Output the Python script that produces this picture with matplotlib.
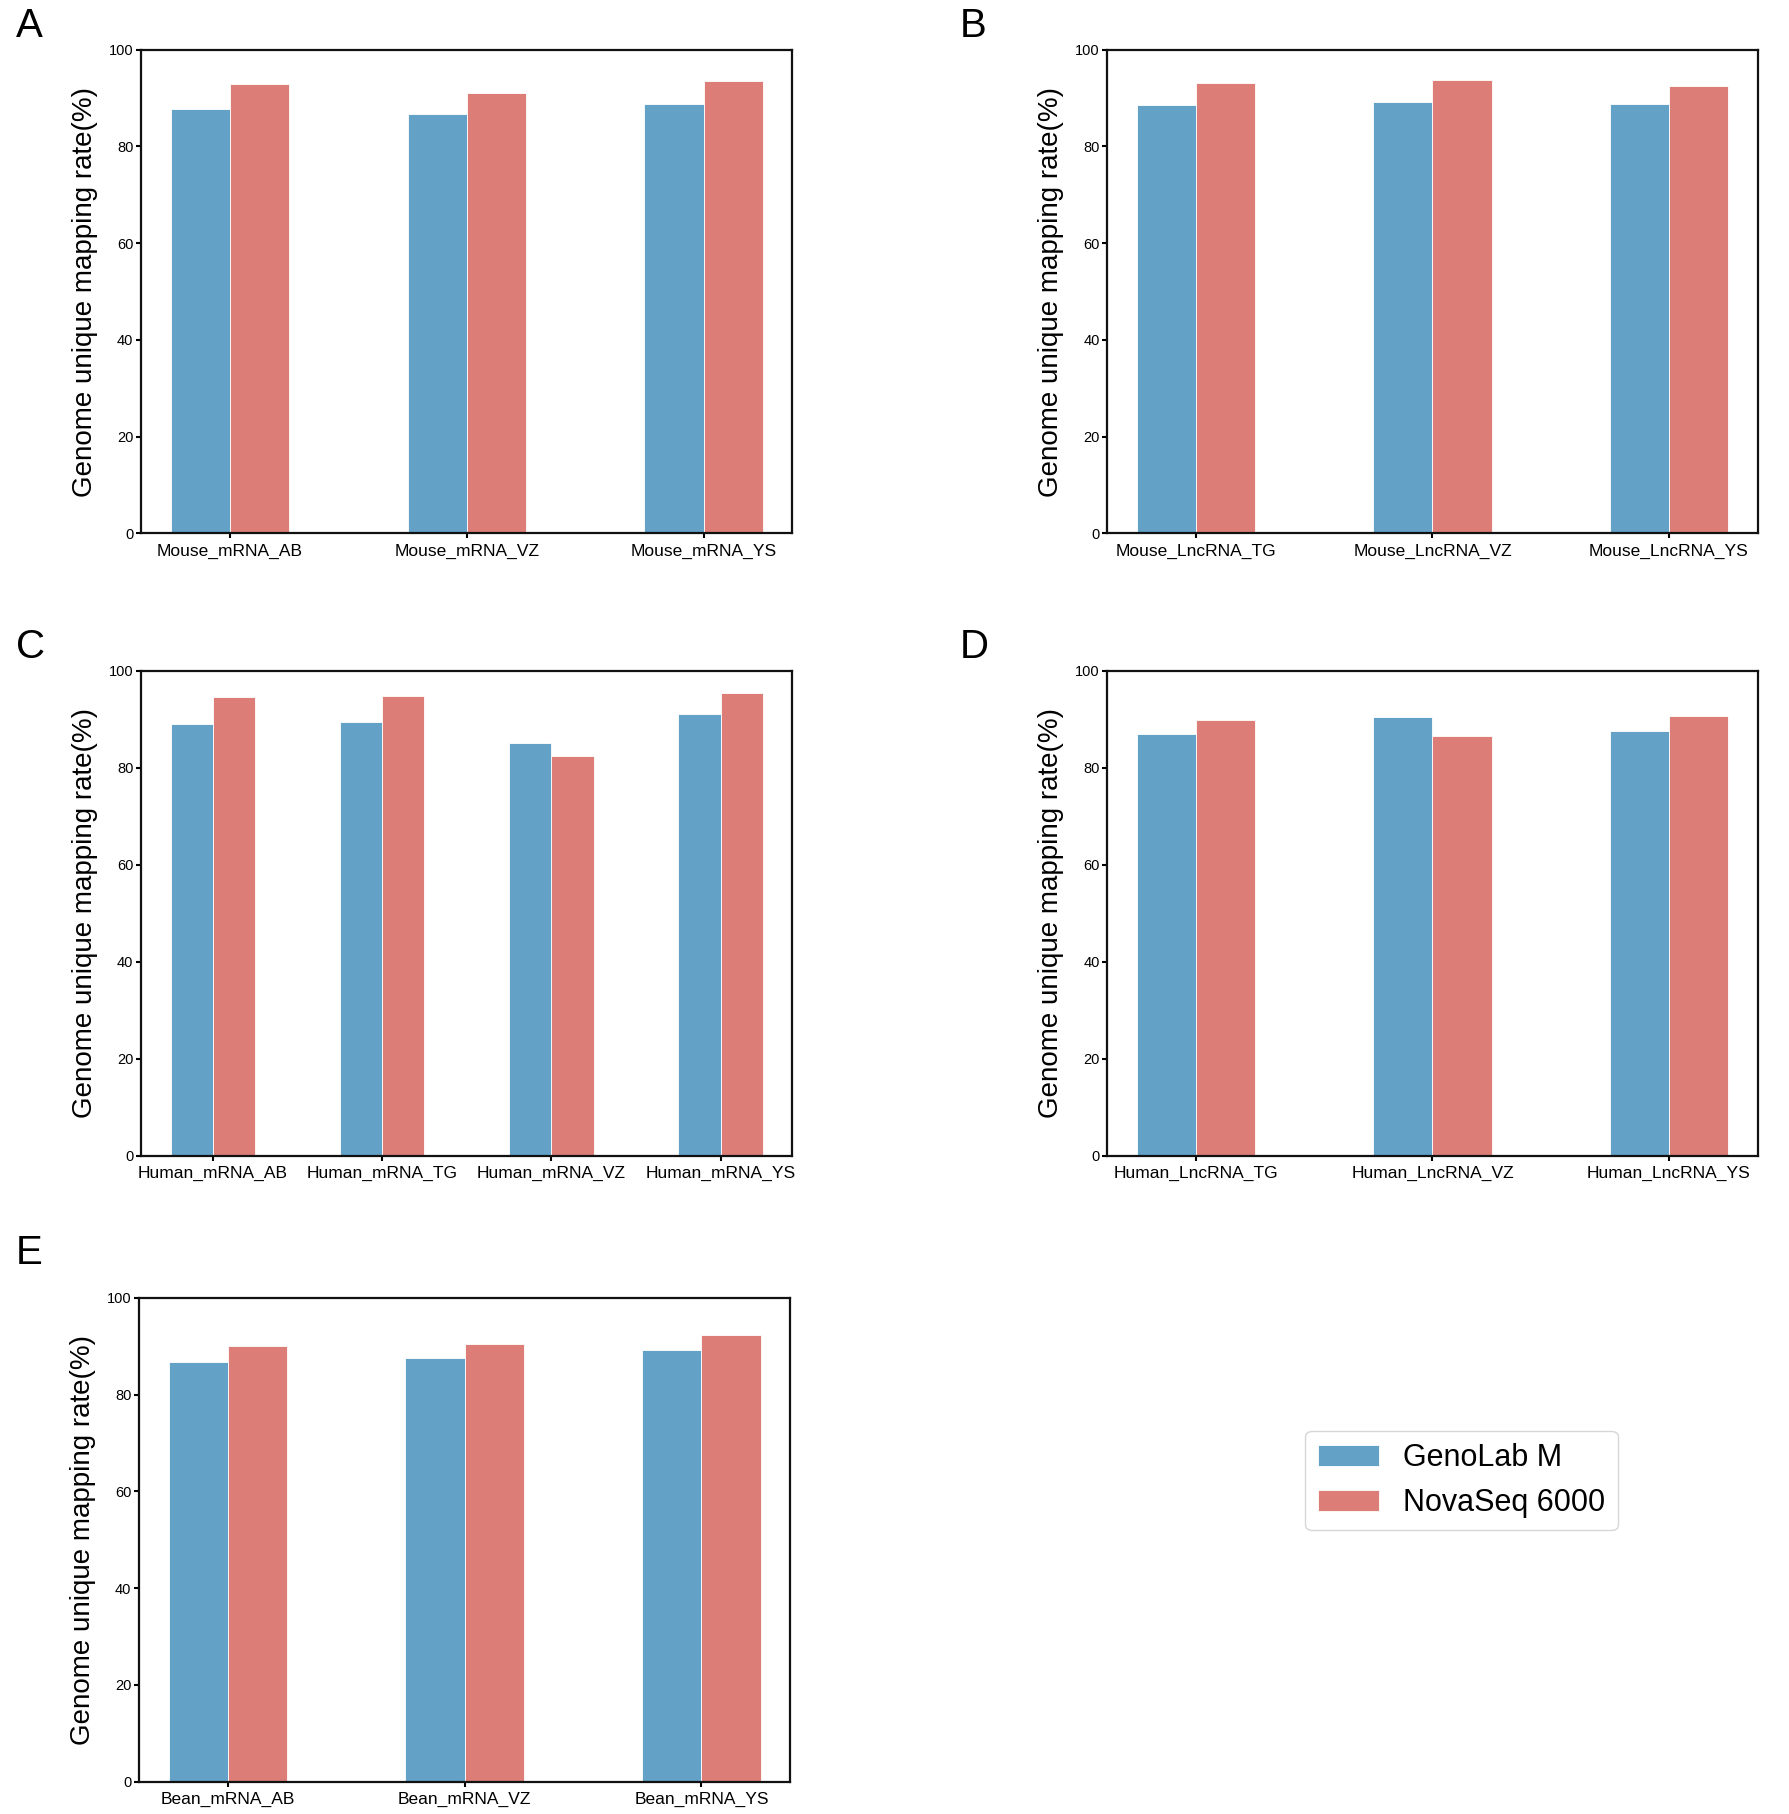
import matplotlib.pyplot as plt
import numpy as np

plt.rcParams['font.family'] = ['Liberation Sans', 'DejaVu Sans']

# Données
labels_a = ['Mouse_mRNA_AB', 'Mouse_mRNA_VZ', 'Mouse_mRNA_YS']
genolab_a = [87.8, 86.75, 88.8]
novaseq_a = [92.96, 91.0, 93.6]

labels_b = ['Mouse_LncRNA_TG', 'Mouse_LncRNA_VZ', 'Mouse_LncRNA_YS']
genolab_b = [88.5, 89.2, 88.75]
novaseq_b = [93.2, 93.75, 92.4]

labels_c = ['Human_mRNA_AB', 'Human_mRNA_TG', 'Human_mRNA_VZ', 'Human_mRNA_YS']
genolab_c = [89.1, 89.4, 85.2, 91.2]
novaseq_c = [94.7, 94.8, 82.4, 95.4]

labels_d = ['Human_LncRNA_TG', 'Human_LncRNA_VZ', 'Human_LncRNA_YS']
genolab_d = [87.0, 90.55, 87.7]
novaseq_d = [89.9, 86.55, 90.76]

labels_e = ['Bean_mRNA_AB', 'Bean_mRNA_VZ', 'Bean_mRNA_YS']
genolab_e = [86.8, 87.5, 89.25]
novaseq_e = [90.1, 90.5, 92.35]

series_names = ['GenoLab M', 'NovaSeq 6000']
bleu = '#63a1c7'
rouge = '#dc7e77'

# (lettre, étiquettes, séries, position des axes, décalage de la lettre)
panneaux = [
    ('A', labels_a, genolab_a, novaseq_a, [0.0788, 0.7060, 0.3639, 0.2666], 0.0235),
    ('B', labels_b, genolab_b, novaseq_b, [0.6186, 0.7060, 0.3633, 0.2666], 0.0235),
    ('C', labels_c, genolab_c, novaseq_c, [0.0788, 0.3628, 0.3639, 0.2673], 0.0235),
    ('D', labels_d, genolab_d, novaseq_d, [0.6186, 0.3628, 0.3633, 0.2673], 0.0235),
    ('E', labels_e, genolab_e, novaseq_e, [0.0776, 0.0179, 0.3639, 0.2666], 0.0355),
]

fig = plt.figure(figsize=(17.9, 18.14), dpi=100)

largeur = 0.25
for lettre, labels, geno, nova, pos, dy in panneaux:
    ax = fig.add_axes(pos)
    x = np.arange(len(labels))
    b1 = ax.bar(x - largeur / 2, geno, largeur, color=bleu,
                edgecolor='white', linewidth=0.6, label=series_names[0])
    b2 = ax.bar(x + largeur / 2, nova, largeur, color=rouge,
                edgecolor='white', linewidth=0.6, label=series_names[1])
    ax.set_ylim(0, 100)
    ax.set_yticks([0, 20, 40, 60, 80, 100])
    ax.set_xticks(x)
    ax.set_xticklabels(labels, fontsize=12.5)
    ax.tick_params(axis='y', labelsize=10.5, length=3.5, width=1.5, pad=2)
    ax.tick_params(axis='x', length=3.5, width=1.5, pad=4)
    for sp in ax.spines.values():
        sp.set_linewidth(1.6)
        sp.set_color('#111111')
    ax.set_ylabel('Genome unique mapping rate(%)', fontsize=20, labelpad=8)

    # Lettre du panneau
    x_lettre = 0.009 if pos[0] < 0.5 else 0.536
    fig.text(x_lettre, pos[1] + pos[3] + dy, lettre, fontsize=29,
             ha='left', va='top')

# Légende commune
fig.legend([b1, b2], series_names, loc='center',
           bbox_to_anchor=(0.8165, 0.1838), fontsize=22,
           frameon=True, fancybox=True, edgecolor='#cccccc')

fig.savefig('out.png', dpi=100)
